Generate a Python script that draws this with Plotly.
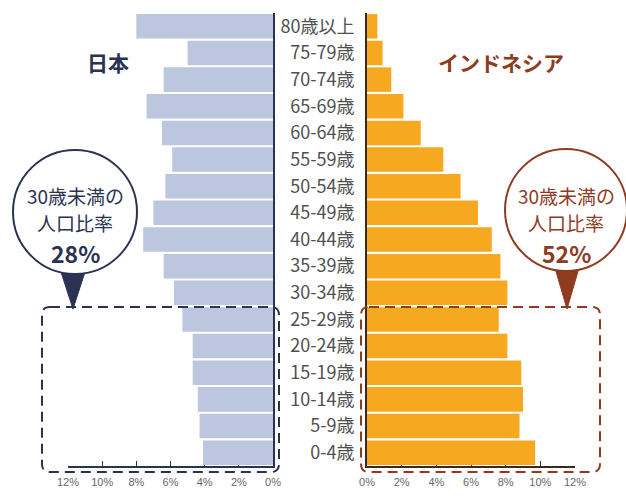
import plotly.graph_objects as go

# ---- data ----
ages = ["0-4歳", "5-9歳", "10-14歳", "15-19歳", "20-24歳", "25-29歳", "30-34歳",
        "35-39歳", "40-44歳", "45-49歳", "50-54歳", "55-59歳", "60-64歳",
        "65-69歳", "70-74歳", "75-79歳", "80歳以上"]
japan = [4.1, 4.3, 4.4, 4.7, 4.7, 5.3, 5.8, 6.4, 7.6, 7.0, 6.3, 5.9, 6.5, 7.4, 6.4, 5.0, 8.0]
indonesia = [9.7, 8.8, 9.0, 8.9, 8.1, 7.6, 8.1, 7.7, 7.2, 6.4, 5.4, 4.4, 3.1, 2.1, 1.4, 0.9, 0.6]
tick_vals = [0, 2, 4, 6, 8, 10, 12]
tick_text = ["0%", "2%", "4%", "6%", "8%", "10%", "12%"]
country_left = "日本"
country_right = "インドネシア"
ratio_label = ["30歳未満の", "人口比率"]
ratio_left = "28%"
ratio_right = "52%"

W, H = 626, 497
NAVY = "#2a3352"
BROWN = "#8e3b1f"
JP = "Noto Sans CJK JP"


def px(x, y):
    return x / W, 1 - y / H


fig = go.Figure()
fig.add_trace(go.Bar(y=ages, x=japan, orientation="h", marker_color="#bcc6df",
                     marker_line_width=0, xaxis="x", yaxis="y", showlegend=False))
fig.add_trace(go.Bar(y=ages, x=indonesia, orientation="h", marker_color="#f6a821",
                     marker_line_width=0, xaxis="x2", yaxis="y2", showlegend=False))

ydom = [1 - 466 / H, 1 - 13 / H]
tickfont = dict(family="Liberation Sans Narrow, Liberation Sans", size=11, color="#666")

fig.update_layout(
    width=W, height=H, margin=dict(l=0, r=0, t=0, b=0, autoexpand=False),
    paper_bgcolor="white", plot_bgcolor="white", bargap=0.08,
    xaxis=dict(domain=[68 / W, 273 / W], range=[12, 0], tickvals=tick_vals, ticktext=tick_text,
               showgrid=False, zeroline=False, showline=True, linecolor=NAVY, linewidth=2,
               ticks="inside", ticklen=5, tickcolor=NAVY, tickwidth=1, tickfont=tickfont,
               ticklabelstandoff=5, layer="below traces", anchor="y", automargin=False),
    yaxis=dict(domain=ydom, side="right", showticklabels=False, showgrid=False, zeroline=False,
               showline=True, linecolor=NAVY, linewidth=2, ticks="", anchor="x",
               layer="above traces", range=[-0.5, 16.5], automargin=False),
    xaxis2=dict(domain=[367 / W, 575 / W], range=[0, 12], tickvals=tick_vals, ticktext=tick_text,
                showgrid=False, zeroline=False, showline=True, linecolor="#3a2a1c", linewidth=2,
                ticks="inside", ticklen=5, tickcolor="#3a2a1c", tickwidth=1, tickfont=tickfont,
                ticklabelstandoff=5, layer="below traces", anchor="y2", automargin=False),
    yaxis2=dict(domain=ydom, side="left", showgrid=False, zeroline=False, showline=True,
                linecolor="#3a2a1c", linewidth=2, ticks="", anchor="x2", layer="above traces",
                range=[-0.5, 16.5], ticklabelstandoff=7, automargin=False,
                tickfont=dict(family=JP, size=18, color="#505050")),
)

shapes = []


def rrect(x0, y0, x1, y1, r, color):
    def p(x, y):
        a, b = px(x, y)
        return f"{a:.5f},{b:.5f}"
    path = (f"M {p(x0 + r, y0)} L {p(x1 - r, y0)} Q {p(x1, y0)} {p(x1, y0 + r)} "
            f"L {p(x1, y1 - r)} Q {p(x1, y1)} {p(x1 - r, y1)} L {p(x0 + r, y1)} "
            f"Q {p(x0, y1)} {p(x0, y1 - r)} L {p(x0, y0 + r)} Q {p(x0, y0)} {p(x0 + r, y0)} Z")
    return dict(type="path", xref="paper", yref="paper", path=path,
                line=dict(color=color, width=2, dash="10px,6px"), layer="above")


def tri(xl, xr, ytop, xt, yt, color):
    a = px(xl, ytop); b = px(xr, ytop); c = px(xt, yt)
    path = f"M {a[0]:.5f},{a[1]:.5f} L {b[0]:.5f},{b[1]:.5f} L {c[0]:.5f},{c[1]:.5f} Z"
    return dict(type="path", xref="paper", yref="paper", path=path,
                fillcolor=color, line=dict(color=color, width=1), layer="above")


def circ(cx, cy, r, color):
    x0, y0 = px(cx - r, cy - r)
    x1, y1 = px(cx + r, cy + r)
    return dict(type="circle", xref="paper", yref="paper", x0=x0, y0=y1, x1=x1, y1=y0,
                fillcolor="white", line=dict(color=color, width=2), layer="above")


shapes.append(rrect(42, 307, 279, 472, 8, NAVY))
shapes.append(rrect(361, 307, 600, 472, 8, BROWN))
shapes.append(tri(61, 85, 272, 73, 309, NAVY))
shapes.append(tri(555, 579, 268, 567, 309, BROWN))
shapes.append(circ(75, 212, 62, NAVY))
shapes.append(circ(566, 210, 61, BROWN))
fig.update_layout(shapes=shapes)

ann = []


def text(x, y, s, size, color):
    a, b = px(x, y)
    ann.append(dict(x=a, y=b, xref="paper", yref="paper", text=s,
                    showarrow=False, xanchor="center", yanchor="middle",
                    font=dict(family=JP, size=size, color=color)))


text(108, 62, f"<b>{country_left}</b>", 21, NAVY)
text(501, 62, f"<b>{country_right}</b>", 21, BROWN)
for cx, col, r in [(75, NAVY, ratio_left), (566, BROWN, ratio_right)]:
    text(cx, 195, ratio_label[0], 19, col)
    text(cx, 222, ratio_label[1], 19, col)
    text(cx, 253, f"<b>{r}</b>", 23, col)
fig.update_layout(annotations=ann)

fig.write_html("out.html", config={"displayModeBar": False},
               post_script="document.body.style.margin='0px';")
